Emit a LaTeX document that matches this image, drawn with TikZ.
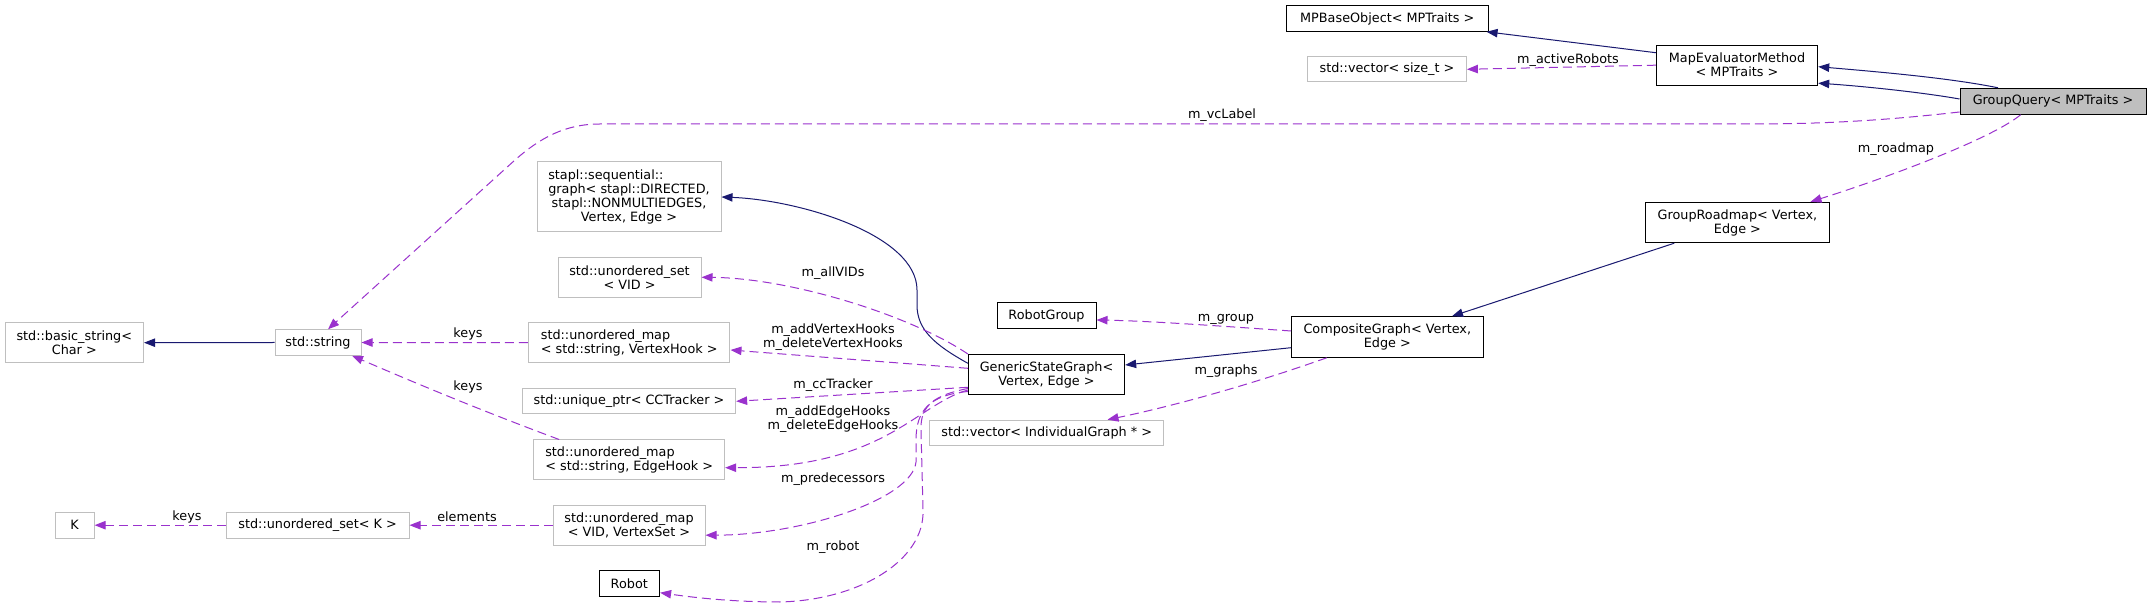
\documentclass[tikz,border=0pt]{standalone}
\usepackage{fontspec}
\setmainfont{DejaVu Sans}
\usetikzlibrary{arrows.meta}
\definecolor{navyc}{HTML}{191970}
\definecolor{orchidc}{HTML}{9A32CD}
\definecolor{greyc}{HTML}{BFBFBF}
\newcommand{\fsz}{\fontsize{6.4pt}{7pt}\selectfont}
\begin{document}
\begin{tikzpicture}[x=0.5pt,y=-0.5pt,
  basebox/.style={draw, line width=0.5pt, font=\fsz, align=center, inner sep=0pt, anchor=center},
  sz/.style 2 args={minimum width=#1pt, minimum height=#2pt},
  docbox/.style={basebox, draw=black, fill=white},
  extbox/.style={basebox, draw=greyc, fill=white},
  rootbox/.style={basebox, draw=black, fill=greyc},
  inh/.style={draw=navyc, line width=0.5pt, -{Triangle[length=5.5pt,width=4.2pt,fill=navyc]}},
  use/.style={draw=orchidc, line width=0.5pt, dash pattern=on 4.5pt off 2.5pt, -{Triangle[length=5.5pt,width=4.2pt,fill=orchidc]}},
  lbl/.style={font=\fsz, inner sep=0pt, align=center, text=black}]
\useasboundingbox[fill=white] (0,0) rectangle (2151,608);

% nodes
\node[extbox, sz={69.25}{20}] (basestr) at (74.3,342.7) {std::basic\_string<\\Char >};
\node[extbox, sz={43}{12.75}] (string) at (318,342.5) {std::string};
\node[extbox, sz={92}{35}] (stapl) at (629,197) {\rlap{stapl::sequential::}\phantom{graph< stapl::DIRECTED,}\\graph< stapl::DIRECTED,\\stapl::NONMULTIEDGES,\\Vertex, Edge >};
\node[extbox, sz={71.5}{20}] (usetvid) at (629.5,277.3) {std::unordered\_set\\< VID >};
\node[extbox, sz={100.75}{20}] (umapvh) at (629.2,342.7) {\rlap{std::unordered\_map}\phantom{< std::string, VertexHook >}\\< std::string, VertexHook >};
\node[extbox, sz={106.65}{12.65}] (uptr) at (629,401.3) {std::unique\_ptr< CCTracker >};
\node[extbox, sz={95.4}{20}] (umapeh) at (629.2,460) {\rlap{std::unordered\_map}\phantom{< std::string, EdgeHook >}\\< std::string, EdgeHook >};
\node[extbox, sz={19.5}{12.85}] (knode) at (74.6,525.2) {K};
\node[extbox, sz={91.4}{12.85}] (usetk) at (317.6,525.2) {std::unordered\_set< K >};
\node[extbox, sz={76}{20.15}] (umapvs) at (629,525.2) {std::unordered\_map\\< VID, VertexSet >};
\node[docbox, sz={30.3}{12.85}] (robot) at (629.3,583.8) {Robot};
\node[docbox, sz={78.15}{20}] (gsg) at (1046.5,374.5) {GenericStateGraph<\\Vertex, Edge >};
\node[docbox, sz={49.5}{13}] (robotgroup) at (1046.5,316) {RobotGroup};
\node[extbox, sz={117.2}{12.85}] (vecig) at (1046.7,433) {std::vector< IndividualGraph * >};
\node[docbox, sz={100.75}{12.8}] (mpbase) at (1387.3,18.5) {MPBaseObject< MPTraits >};
\node[extbox, sz={79.4}{12.65}] (vecsize) at (1387,69.3) {std::vector< size\_t >};
\node[docbox, sz={80.7}{20.15}] (mapeval) at (1737,65.2) {MapEvaluatorMethod\\< MPTraits >};
\node[rootbox, sz={93}{13}] (gq) at (2053,101.3) {GroupQuery< MPTraits >};
\node[docbox, sz={91.8}{20.2}] (groadmap) at (1737.4,222.5) {GroupRoadmap< Vertex,\\Edge >};
\node[docbox, sz={95.7}{20.3}] (composite) at (1387.3,337) {CompositeGraph< Vertex,\\Edge >};

% inheritance edges
\draw[inh] ([yshift=6.25pt]mapeval.west) -- ([xshift=-1pt]mpbase.south east);
\draw[inh] ([xshift=-27.5pt]gq.north) .. controls (1950,78) and (1880,72) .. ([yshift=-0.75pt]mapeval.east);
\draw[inh] ([yshift=1.15pt]gq.west) .. controls (1920,92) and (1860,86) .. ([yshift=-9pt]mapeval.east);
\draw[inh] ([xshift=-31.55pt]groadmap.south) -- ([xshift=32.35pt]composite.north);
\draw[inh] ([yshift=-5.35pt]composite.west) -- ([yshift=4.75pt]gsg.east);
\draw[inh] ([yshift=5.6pt]gsg.west) .. controls (935,345) and (917,330) .. (917,305) -- (917,290) .. controls (917,235) and (800,200) .. (stapl.east);
\draw[inh] (string.west) -- (basestr.east);

% usage edges
\draw[use] (mapeval.west) -- (vecsize.east);
\node[lbl] (l1) at (1568,60) {m\_activeRobots};
\draw[use] ([yshift=-5.35pt]gq.west) .. controls (1880,121) and (1820,124) .. (1750,124) -- (600,124) .. controls (565,124) and (540,138) .. (515,160) -- ([xshift=5pt]string.north);
\node[lbl] (l2) at (1222,115) {m\_vcLabel};
\draw[use] ([xshift=-16.2pt]gq.south) .. controls (1990,140) and (1880,180) .. ([xshift=-9.6pt]groadmap.north east);
\node[lbl] (l3) at (1896,149) {m\_roadmap};
\draw[use] ([yshift=3pt]composite.west) .. controls (1220,326) and (1150,321) .. ([yshift=-2pt]robotgroup.east);
\node[lbl] (l4) at (1226,319) {m\_group};
\draw[use] ([xshift=-30.3pt]composite.south) .. controls (1230,392) and (1150,411) .. ([xshift=30.4pt]vecig.north);
\node[lbl] (l5) at (1226,371) {m\_graphs};
\draw[use] (gsg.north west) .. controls (910,315) and (790,278) .. (usetvid.east);
\node[lbl] (l6) at (833,273) {m\_allVIDs};
\draw[use] ([yshift=3.1pt]gsg.west) -- ([yshift=-3.65pt]umapvh.east);
\node[lbl] (l7) at (833,337) {m\_addVertexHooks\\m\_deleteVertexHooks};
\draw[use] ([yshift=-6.4pt]gsg.west) -- (uptr.east);
\node[lbl] (l8) at (833,385) {m\_ccTracker};
\draw[use] ([yshift=-7.75pt]gsg.west) .. controls (915,405) and (885,468) .. ([yshift=-3.85pt]umapeh.east);
\node[lbl] (l9) at (833,419) {m\_addEdgeHooks\\m\_deleteEdgeHooks};
\draw[use] ([yshift=-8.5pt]gsg.west) .. controls (930,395) and (916,410) .. (916,440) -- (916,462) .. controls (912,500) and (800,535) .. ([yshift=-5pt]umapvs.east);
\node[lbl] (l10) at (833,479) {m\_predecessors};
\draw[use] ([yshift=-7pt]gsg.west) .. controls (935,395) and (920,405) .. (921,430) -- (923,510) .. controls (925,560) and (860,600) .. (780,602) .. controls (730,602) and (690,597) .. ([yshift=-4.45pt]robot.east);
\node[lbl] (l11) at (833,547) {m\_robot};
\draw[use] (umapvh.west) -- (string.east);
\node[lbl] (l12) at (468,334) {keys};
\draw[use] ([xshift=12.9pt]umapeh.north west) .. controls (480,410) and (420,385) .. ([xshift=-4.75pt]string.south east);
\node[lbl] (l13) at (468,387) {keys};
\draw[use] (umapvs.west) -- (usetk.east);
\node[lbl] (l14) at (467,517) {elements};
\draw[use] (usetk.west) -- (knode.east);
\node[lbl] (l15) at (187,517) {keys};
\end{tikzpicture}
\end{document}
